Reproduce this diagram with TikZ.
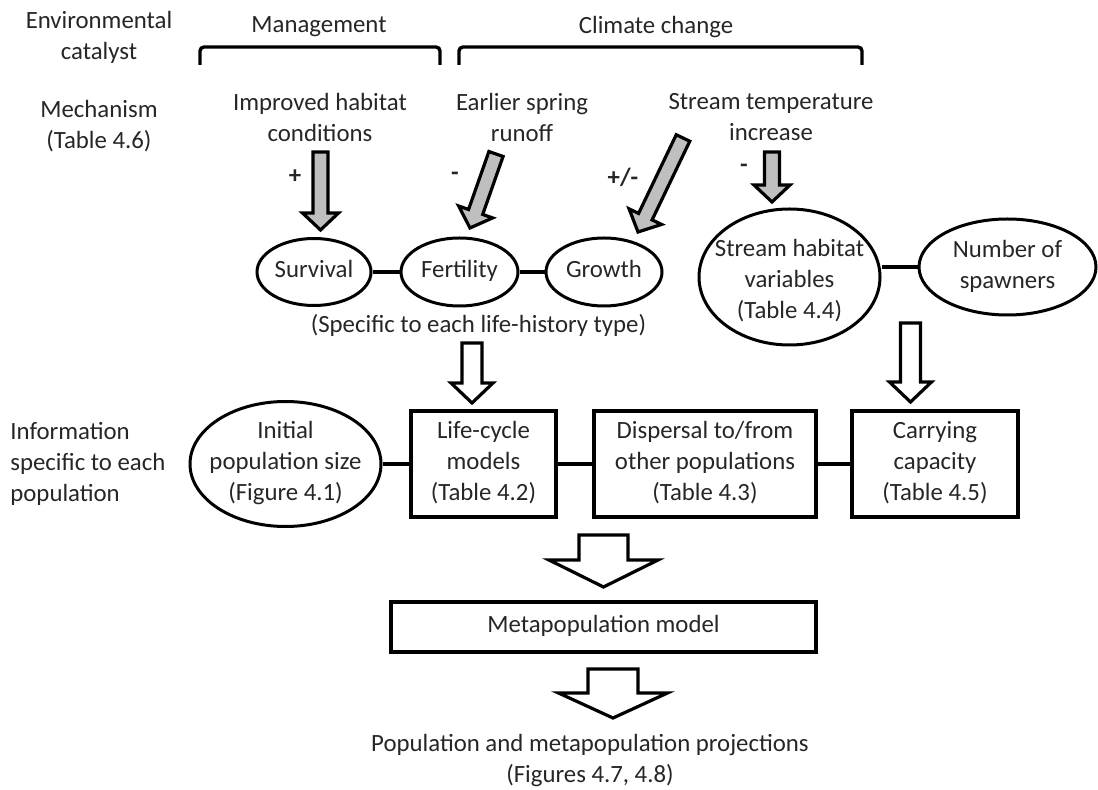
\documentclass[tikz,border=0pt]{standalone}
\usepackage{fontspec}
\setmainfont{Carlito}
\usetikzlibrary{shapes.geometric,calc}

\tikzset{
  every node/.style={font=\fontsize{12.4}{15.5}\selectfont,align=center,inner sep=0pt,text=black!85},
  oval/.style={draw=black,ellipse,line width=1.5pt,inner sep=-12pt,text depth=3pt},
  box/.style={draw=black,rectangle,line width=1.6pt,text depth=3pt},
  link/.style={line width=2.3pt},
  bracket/.style={line width=1.7pt,rounded corners=2pt},
  blockarrow/.style={draw=black,line width=1.6pt,line join=miter},
  sign/.style={font=\fontsize{12.4}{15.5}\selectfont\bfseries},
}

% block arrow from #2 to #3: half shaft #4, half head #5, head length #6
\newcommand\blockarrow[6][white]{
  \coordinate (hb) at ($(#3)!#6!(#2)$);
  \draw[blockarrow,fill=#1] ($(#2)!#4!90:(#3)$) -- ($(hb)!#4!-90:(#2)$)
    -- ($(hb)!#5!-90:(#2)$) -- (#3) -- ($(hb)!#5!90:(#2)$)
    -- ($(hb)!#4!90:(#2)$) -- ($(#2)!#4!-90:(#3)$) -- cycle;
}

\begin{document}
\begin{tikzpicture}[x=0.5pt,y=-0.5pt]
\useasboundingbox (0,0) rectangle (1098,790);

% row labels
\node (envcat) at (99,37) {Environmental\\catalyst};
\node (mech) at (99,126) {Mechanism\\(Table 4.6)};
\node[anchor=west,align=left] (info) at (10,464) {Information\\specific to each\\population};

% catalysts
\node (mgmt) at (319,27) {Management};
\node (clim) at (656,27) {Climate change};
\draw[bracket] (200,65) |- (440,47) -- (440,65);
\draw[bracket] (459,65) |- (862,47) -- (862,65);

% mechanisms
\node (imp) at (320,117) {Improved habitat\\conditions};
\node (run) at (522,117) {Earlier spring\\runoff};
\node (temp) at (771,117) {Stream temperature\\increase};

\node[sign] (s1) at (295,177) {+};
\node[sign] (s2) at (455,176) {-};
\node[sign] (s3) at (623,177) {+/-};
\node[sign] (s4) at (744,168) {-};

% vital rates
\node[oval,minimum width=57pt,minimum height=33.5pt] (surv) at (314,272) {Survival};
\node[oval,minimum width=58.5pt,minimum height=34pt] (fert) at (459.5,272) {Fertility};
\node[oval,minimum width=58pt,minimum height=34pt] (grow) at (604,272) {Growth};
\draw[link] (surv) -- (fert) (fert) -- (grow);
\node (lh) at (478.5,325) {(Specific to each life-history type)};

\node[oval,minimum width=90.5pt,minimum height=68pt,text height=45pt] (habv) at (789.5,277) {Stream habitat\\variables\\(Table 4.4)};
\node[oval,minimum width=88.5pt,minimum height=48pt] (spawn) at (1007.5,267) {Number of\\spawners};
\draw[link] (spawn.west) -- (habv.east |- spawn.west);

% population inputs
\node[oval,minimum width=95.5pt,minimum height=62.5pt] (init) at (285.5,464) {Initial\\population size\\(Figure 4.1)};
\node[box,minimum width=72.5pt,minimum height=53pt] (life) at (483.5,464) {Life-cycle\\models\\(Table 4.2)};
\node[box,minimum width=111pt,minimum height=53pt] (disp) at (705,464) {Dispersal to/from\\other populations\\(Table 4.3)};
\node[box,minimum width=83pt,minimum height=53pt] (carry) at (935,464) {Carrying\\capacity\\(Table 4.5)};
\draw[link] (init) -- (life) (life) -- (disp) (disp) -- (carry);

\node[box,minimum width=212.5pt,minimum height=25pt] (meta) at (603.5,627) {Metapopulation model};
\node (proj) at (590,761) {Population and metapopulation projections\\(Figures 4.7, 4.8)};

% grey arrows
\coordinate (gs1) at (320.5,152); \coordinate (ge1) at (320.5,230);
\coordinate (gs2) at (496,154);   \coordinate (ge2) at (470,228);
\coordinate (gs3) at (683,138);   \coordinate (ge3) at (638,232);
\coordinate (gs4) at (772,152);   \coordinate (ge4) at (772,202);
\foreach \a in {1,...,4}{\blockarrow[black!25]{gs\a}{ge\a}{3.75pt}{9pt}{8.5pt}}

% open arrows
\coordinate (ws1) at (472,343);   \coordinate (we1) at (472,403);
\coordinate (ws2) at (910.5,323); \coordinate (we2) at (910.5,402);
\coordinate (ws3) at (603.5,535); \coordinate (we3) at (603.5,587);
\coordinate (ws4) at (613,669);   \coordinate (we4) at (613,718);
\blockarrow{ws1}{we1}{5pt}{10.5pt}{10pt}
\blockarrow{ws2}{we2}{5pt}{10.5pt}{10pt}
\blockarrow{ws3}{we3}{12.25pt}{27.25pt}{13.5pt}
\blockarrow{ws4}{we4}{12.5pt}{27.25pt}{12.5pt}
\end{tikzpicture}
\end{document}
